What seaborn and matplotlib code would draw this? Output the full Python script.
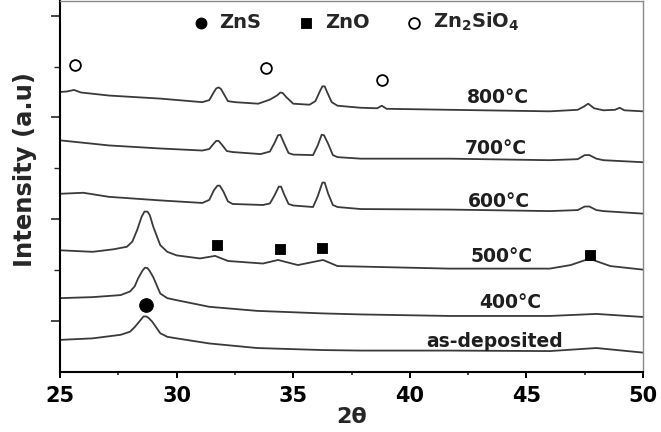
import matplotlib
matplotlib.use("Agg")
import matplotlib.pyplot as plt
from matplotlib.ticker import MultipleLocator, FixedLocator
import seaborn as sns
import pandas as pd

# XRD patterns (offset for display)
tt_800 = [25.0, 25.3, 25.6, 25.9, 27.1, 29.3, 31.1, 31.4, 31.6, 31.7, 31.8, 31.9, 32.0,
          32.2, 32.5, 33.5, 34.0, 34.3, 34.45, 34.55, 34.7, 35.0, 35.7, 35.95, 36.15,
          36.25, 36.35, 36.45, 36.65, 36.9, 37.9, 38.6, 38.8, 39.0, 41.7, 46.0, 47.2,
          47.45, 47.65, 47.9, 48.3, 48.8, 49.0, 49.2, 50.0]
i_800 = [5.50, 5.51, 5.54, 5.49, 5.43, 5.37, 5.30, 5.34, 5.50, 5.57, 5.59, 5.56, 5.48,
         5.32, 5.30, 5.27, 5.35, 5.43, 5.49, 5.48, 5.40, 5.27, 5.25, 5.32, 5.52,
         5.61, 5.61, 5.50, 5.30, 5.23, 5.19, 5.18, 5.23, 5.17, 5.15, 5.12, 5.15,
         5.21, 5.27, 5.18, 5.14, 5.15, 5.19, 5.14, 5.12]

tt_700 = [25.0, 27.1, 29.3, 31.1, 31.4, 31.6, 31.7, 31.8, 31.95, 32.15, 32.4, 33.6, 34.0,
          34.2, 34.35, 34.45, 34.6, 34.8, 35.0, 35.85, 36.05, 36.22, 36.32, 36.5, 36.7,
          36.9, 37.9, 41.7, 46.0, 47.2, 47.5, 47.7, 48.0, 48.3, 50.0]
i_700 = [4.55, 4.45, 4.39, 4.35, 4.38, 4.49, 4.54, 4.54, 4.46, 4.34, 4.32, 4.28, 4.33,
         4.50, 4.65, 4.66, 4.50, 4.30, 4.27, 4.26, 4.45, 4.66, 4.65, 4.48, 4.26,
         4.22, 4.19, 4.19, 4.16, 4.18, 4.26, 4.26, 4.19, 4.16, 4.12]

tt_600 = [25.0, 26.0, 27.1, 29.3, 31.1, 31.4, 31.6, 31.75, 31.85, 32.0, 32.2, 32.4, 33.7,
          34.0, 34.2, 34.38, 34.48, 34.6, 34.8, 35.0, 35.85, 36.05, 36.25, 36.35, 36.5,
          36.7, 36.9, 37.9, 41.7, 46.0, 47.2, 47.5, 47.7, 48.0, 48.3, 50.0]
i_600 = [3.50, 3.52, 3.44, 3.37, 3.32, 3.38, 3.57, 3.66, 3.66, 3.55, 3.35, 3.30, 3.28,
         3.31, 3.47, 3.64, 3.64, 3.50, 3.30, 3.27, 3.24, 3.45, 3.72, 3.72, 3.50,
         3.28, 3.24, 3.20, 3.19, 3.16, 3.18, 3.25, 3.25, 3.18, 3.16, 3.11]

tt_500 = [25.0, 26.4, 27.3, 27.87, 28.1, 28.3, 28.5, 28.62, 28.75, 28.85, 29.0, 29.3,
          29.6, 30.0, 31.0, 31.65, 32.2, 33.7, 34.35, 35.2, 36.28, 36.9, 37.9, 41.7,
          46.0, 46.9, 47.6, 47.85, 48.6, 50.0]
i_500 = [2.39, 2.36, 2.41, 2.46, 2.56, 2.78, 3.05, 3.15, 3.15, 3.08, 2.85, 2.49,
         2.36, 2.29, 2.23, 2.28, 2.18, 2.13, 2.20, 2.10, 2.20, 2.08, 2.07, 2.03,
         2.03, 2.10, 2.21, 2.20, 2.08, 2.01]

tt_400 = [25.0, 26.4, 27.6, 28.0, 28.2, 28.35, 28.55, 28.65, 28.75, 28.85, 29.0, 29.3,
          29.6, 30.0, 31.4, 33.45, 36.28, 37.9, 41.7, 46.0, 48.0, 50.0]
i_400 = [1.45, 1.47, 1.51, 1.58, 1.68, 1.84, 2.00, 2.05, 2.04, 1.98, 1.86, 1.54,
         1.45, 1.41, 1.28, 1.20, 1.15, 1.13, 1.10, 1.10, 1.14, 1.08]

tt_asdep = [25.0, 26.4, 27.6, 28.0, 28.2, 28.4, 28.58, 28.7, 28.8, 28.95, 29.3, 29.6,
            30.0, 31.4, 33.45, 36.28, 37.9, 41.7, 46.0, 48.0, 50.0]
i_asdep = [0.63, 0.66, 0.73, 0.79, 0.88, 0.99, 1.09, 1.09, 1.06, 0.99, 0.76, 0.69,
           0.66, 0.56, 0.47, 0.43, 0.42, 0.42, 0.41, 0.47, 0.38]

samples = ["as-deposited", "400°C", "500°C", "600°C", "700°C", "800°C"]
tt_all = [tt_asdep, tt_400, tt_500, tt_600, tt_700, tt_800]
i_all = [i_asdep, i_400, i_500, i_600, i_700, i_800]

# curve labels (2theta, intensity at baseline of text)
label_tt = [43.65, 44.3, 43.93, 43.83, 43.7, 43.78]
label_i = [0.50, 1.25, 2.16, 3.24, 4.29, 5.29]

# phase markers
zns_tt, zns_i = [28.68], [1.31]
zno_tt, zno_i = [31.75, 34.42, 36.23, 47.73], [2.49, 2.41, 2.44, 2.29]
zso_tt, zso_i = [25.64, 33.83, 38.81], [6.03, 5.97, 5.73]

df = pd.concat(
    [pd.DataFrame({"two_theta": t, "intensity": v, "sample": s})
     for t, v, s in zip(tt_all, i_all, samples)],
    ignore_index=True,
)

sns.set_style("ticks")
plt.rcParams["font.family"] = ["DejaVu Sans"]
plt.rcParams["font.weight"] = "bold"
plt.rcParams["mathtext.fontset"] = "dejavusans"

fig = plt.figure(figsize=(6.61, 4.32), dpi=100)
ax = fig.add_axes([0.0908, 0.139, 0.882, 0.859])

line_col = "#3a3a3a"
sns.lineplot(data=df, x="two_theta", y="intensity", hue="sample", units="sample",
             estimator=None, palette=[line_col] * len(samples), linewidth=1.3,
             legend=False, ax=ax)

sns.scatterplot(x=zns_tt, y=zns_i, marker="o", s=95, color="black",
                edgecolor="black", label="ZnS", ax=ax, zorder=5)
sns.scatterplot(x=zno_tt, y=zno_i, marker="s", s=60, color="black",
                edgecolor="black", label="ZnO", ax=ax, zorder=5)
sns.scatterplot(x=zso_tt, y=zso_i, marker="o", s=60, facecolor="white",
                edgecolor="black", linewidth=1.3, label=r"$\mathbf{Zn_2SiO_4}$",
                ax=ax, zorder=5)

for s, x, y in zip(samples, label_tt, label_i):
    ax.text(x, y, s, ha="center", va="baseline", fontsize=13.5,
            fontweight="bold", color="#1e1e1e")

leg = ax.legend(loc="center", bbox_to_anchor=(0.508, 0.943), ncol=3,
                frameon=False, fontsize=14, handlelength=0.8,
                handletextpad=0.55, columnspacing=1.9, borderpad=0.2)
for h in leg.legend_handles:
    h.set_sizes([60])

ax.set_xlim(25, 50)
ax.set_ylim(0, 7.29)
ax.xaxis.set_major_locator(MultipleLocator(5))
ax.xaxis.set_minor_locator(MultipleLocator(2.5))
ax.yaxis.set_major_locator(FixedLocator([1, 3, 5, 7]))
ax.yaxis.set_minor_locator(FixedLocator([2, 4, 6]))
ax.set_yticklabels([])

ax.tick_params(axis="x", which="major", direction="out", length=4, width=1.4,
               labelsize=15, pad=6, colors="black")
ax.tick_params(axis="x", which="minor", direction="out", length=2.5, width=1.2)
ax.tick_params(axis="y", which="major", direction="out", length=6.5, width=1.2)
ax.tick_params(axis="y", which="minor", direction="out", length=4, width=1.0)
for lab in ax.get_xticklabels():
    lab.set_fontweight("bold")

ax.set_xlabel("2θ", fontsize=16, fontweight="bold", labelpad=1)
ax.set_ylabel("Intensity (a.u)", fontsize=17.5, fontweight="bold")
ax.yaxis.set_label_coords(-0.04, 0.545)

for side in ["left", "bottom"]:
    ax.spines[side].set_color("black")
    ax.spines[side].set_linewidth(1.5)
for side in ["top", "right"]:
    ax.spines[side].set_visible(True)
    ax.spines[side].set_color("#8a8a8a")
    ax.spines[side].set_linewidth(1.0)

fig.savefig("out.png", dpi=100)
